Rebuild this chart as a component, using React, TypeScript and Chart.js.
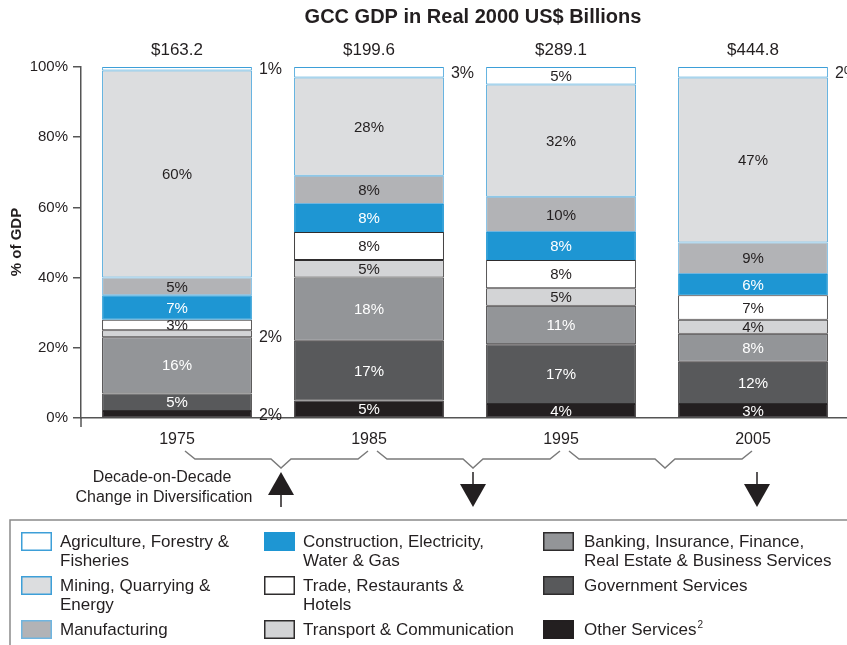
import React, { useEffect, useRef } from "react";
import { Chart, registerables } from "chart.js";

Chart.register(...registerables);

const FONT = "'Liberation Sans', Arial, Helvetica, sans-serif";
const INK = "#231f20";

// Categories and totals
const years = ["1975", "1985", "1995", "2005"];
const totals = ["$163.2", "$199.6", "$289.1", "$444.8"];

// Shares of GDP (%) as drawn, bottom to top of each column
const otherServices = [2, 5, 4, 4];
const government = [5, 17, 17, 12];
const banking = [16, 18, 11, 8];
const transport = [2, 5, 5, 4];
const trade = [3, 8, 8, 7];
const construction = [7, 8, 8, 6];
const manufacturing = [5, 8, 10, 9];
const mining = [59, 28, 32, 47];
const agriculture = [1, 3, 5, 3];

// Printed labels
const otherText = ["2%", "5%", "4%", "3%"];
const governmentText = ["5%", "17%", "17%", "12%"];
const bankingText = ["16%", "18%", "11%", "8%"];
const transportText = ["2%", "5%", "5%", "4%"];
const tradeText = ["3%", "8%", "8%", "7%"];
const constructionText = ["7%", "8%", "8%", "6%"];
const manufacturingText = ["5%", "8%", "10%", "9%"];
const miningText = ["60%", "28%", "32%", "47%"];
const agricultureText = ["1%", "3%", "5%", "2%"];

// Labels printed beside the column rather than inside
const otherOutside = [true, false, false, false];
const transportOutside = [true, false, false, false];
const agricultureOutside = [true, true, false, true];
const noneOutside = [false, false, false, false];

// Y axis ticks
const yTickStep = 20;
const yMax = 100;

// Decade-on-decade change in diversification
const diversificationChange = ["up", "down", "down"];

const BLUE_EDGE = "#3d9fd8";
const DARK_EDGE = "#2e2c2d";

const seriesDefs = [
  { key: "other", legend: ["Other Services"], sup: "2", data: otherServices, text: otherText, outside: otherOutside, fill: "#231f20", edge: "#231f20", textColor: "#ffffff", col: 2, row: 2 },
  { key: "gov", legend: ["Government Services"], data: government, text: governmentText, outside: noneOutside, fill: "#58595b", edge: DARK_EDGE, textColor: "#ffffff", col: 2, row: 1 },
  { key: "bank", legend: ["Banking, Insurance, Finance,", "Real Estate & Business Services"], data: banking, text: bankingText, outside: noneOutside, fill: "#939598", edge: DARK_EDGE, textColor: "#ffffff", col: 2, row: 0 },
  { key: "transport", legend: ["Transport & Communication"], data: transport, text: transportText, outside: transportOutside, fill: "#d3d4d6", edge: DARK_EDGE, textColor: INK, col: 1, row: 2 },
  { key: "trade", legend: ["Trade, Restaurants &", "Hotels"], data: trade, text: tradeText, outside: noneOutside, fill: "#ffffff", edge: DARK_EDGE, textColor: INK, col: 1, row: 1 },
  { key: "construction", legend: ["Construction, Electricity,", "Water & Gas"], data: construction, text: constructionText, outside: noneOutside, fill: "#1e96d3", edge: "#1e96d3", textColor: "#ffffff", col: 1, row: 0 },
  { key: "manufacturing", legend: ["Manufacturing"], data: manufacturing, text: manufacturingText, outside: noneOutside, fill: "#b2b3b6", edge: "#6fb5e0", textColor: INK, col: 0, row: 2 },
  { key: "mining", legend: ["Mining, Quarrying &", "Energy"], data: mining, text: miningText, outside: noneOutside, fill: "#dcdddf", edge: BLUE_EDGE, textColor: INK, col: 0, row: 1 },
  { key: "agriculture", legend: ["Agriculture, Forestry &", "Fisheries"], data: agriculture, text: agricultureText, outside: agricultureOutside, fill: "#ffffff", edge: BLUE_EDGE, textColor: INK, col: 0, row: 0 },
];

const overlayPlugin = {
  id: "overlay",
  afterDatasetsDraw(chart: any) {
    const ctx = chart.ctx;
    ctx.save();
    ctx.font = `15px ${FONT}`;
    ctx.textBaseline = "middle";
    chart.data.datasets.forEach((ds: any, di: number) => {
      const meta = chart.getDatasetMeta(di);
      meta.data.forEach((bar: any, i: number) => {
        const txt = ds.text[i];
        if (!txt) return;
        const p = bar.getProps(["x", "y", "base", "width"], true);
        const cy = (p.y + p.base) / 2 + 1;
        if (ds.outside[i]) {
          ctx.fillStyle = INK;
          ctx.textAlign = "left";
          ctx.font = `16px ${FONT}`;
          ctx.fillText(txt, p.x + p.width / 2 + 7, cy + (ds.key === "transport" ? 3 : 0));
          ctx.font = `15px ${FONT}`;
        } else {
          ctx.fillStyle = ds.textColor;
          ctx.textAlign = "center";
          ctx.fillText(txt, p.x, cy);
        }
      });
    });
    ctx.restore();
  },
  afterDraw(chart: any) {
    const ctx = chart.ctx;
    const xs = chart.scales.x;
    const area = chart.chartArea;
    const cx = years.map((_, i) => xs.getPixelForValue(i));
    ctx.save();

    // Title
    ctx.fillStyle = INK;
    ctx.textAlign = "center";
    ctx.textBaseline = "middle";
    ctx.font = `bold 20px ${FONT}`;
    ctx.fillText("GCC GDP in Real 2000 US$ Billions", 473, 17);

    // Totals
    ctx.font = `17px ${FONT}`;
    totals.forEach((t, i) => ctx.fillText(t, cx[i], 50));

    // Y axis title
    ctx.save();
    ctx.translate(17, 242);
    ctx.rotate(-Math.PI / 2);
    ctx.font = `bold 15px ${FONT}`;
    ctx.fillText("% of GDP", 0, 0);
    ctx.restore();

    // Axis extension below zero
    ctx.strokeStyle = "#555";
    ctx.lineWidth = 1.5;
    ctx.beginPath();
    ctx.moveTo(area.left, area.bottom);
    ctx.lineTo(area.left, area.bottom + 9);
    ctx.stroke();

    // Braces
    ctx.strokeStyle = "#7a7a7a";
    ctx.lineWidth = 1.5;
    const vx: number[] = [];
    for (let i = 0; i < cx.length - 1; i++) {
      const a = cx[i] + 8;
      const b = cx[i + 1] - 1;
      const m = (cx[i] + cx[i + 1]) / 2 + 8;
      vx.push(m);
      ctx.beginPath();
      ctx.moveTo(a, 451);
      ctx.lineTo(a + 10, 459);
      ctx.lineTo(m - 10, 459);
      ctx.lineTo(m, 468);
      ctx.lineTo(m + 10, 459);
      ctx.lineTo(b - 10, 459);
      ctx.lineTo(b, 451);
      ctx.stroke();
    }

    // Arrows
    ctx.fillStyle = INK;
    ctx.strokeStyle = INK;
    ctx.lineWidth = 1.5;
    diversificationChange.forEach((dir, i) => {
      const x = i === diversificationChange.length - 1 ? cx[i + 1] + 4 : vx[i];
      if (dir === "up") {
        ctx.beginPath();
        ctx.moveTo(x, 472);
        ctx.lineTo(x + 13, 495);
        ctx.lineTo(x - 13, 495);
        ctx.closePath();
        ctx.fill();
        ctx.beginPath();
        ctx.moveTo(x, 495);
        ctx.lineTo(x, 507);
        ctx.stroke();
      } else {
        ctx.beginPath();
        ctx.moveTo(x, 472);
        ctx.lineTo(x, 485);
        ctx.stroke();
        ctx.beginPath();
        ctx.moveTo(x - 13, 484);
        ctx.lineTo(x + 13, 484);
        ctx.lineTo(x, 507);
        ctx.closePath();
        ctx.fill();
      }
    });

    ctx.font = `16px ${FONT}`;
    ctx.textAlign = "center";
    ctx.fillText("Decade-on-Decade", 162, 478);
    ctx.fillText("Change in Diversification", 164, 498);

    // Legend box
    ctx.strokeStyle = "#8a8a8a";
    ctx.lineWidth = 1.5;
    ctx.strokeRect(10, 520, 900, 200);

    const colSwatch = [21, 264, 543];
    const colText = [60, 303, 584];
    const rowTop = [532, 576, 620];
    ctx.textAlign = "left";
    ctx.textBaseline = "middle";
    chart.data.datasets.forEach((ds: any) => {
      const sx = colSwatch[ds.col];
      const sy = rowTop[ds.row];
      ctx.fillStyle = ds.backgroundColor;
      ctx.fillRect(sx, sy, 31, 19);
      ctx.strokeStyle = ds.borderColor;
      ctx.lineWidth = 1.5;
      ctx.strokeRect(sx + 0.75, sy + 0.75, 29.5, 17.5);
      ctx.fillStyle = INK;
      ctx.font = `17px ${FONT}`;
      ds.legend.forEach((line: string, li: number) => {
        ctx.fillText(line, colText[ds.col], sy + 10 + li * 19.5);
      });
      if (ds.sup) {
        const w = ctx.measureText(ds.legend[0]).width;
        ctx.font = `10px ${FONT}`;
        ctx.fillText(ds.sup, colText[ds.col] + w + 1, sy + 5);
      }
    });

    ctx.restore();
  },
};

export default function App() {
  const ref = useRef<HTMLCanvasElement | null>(null);

  useEffect(() => {
    if (!ref.current) return;
    Chart.defaults.font.family = FONT;
    const chart = new Chart(ref.current, {
      type: "bar",
      data: {
        labels: years,
        datasets: seriesDefs.map((s) => ({
          label: s.legend.join(" "),
          data: s.data,
          backgroundColor: s.fill,
          borderColor: s.edge,
          borderWidth: 1,
          borderSkipped: false,
          barPercentage: 0.78,
          categoryPercentage: 1,
          key: s.key,
          text: s.text,
          outside: s.outside,
          textColor: s.textColor,
          legend: s.legend,
          sup: (s as any).sup,
          col: s.col,
          row: s.row,
        })) as any,
      },
      options: {
        responsive: false,
        animation: false,
        events: [],
        layout: { padding: { top: 67, left: 0, right: 21, bottom: 197 } },
        plugins: {
          legend: { display: false },
          tooltip: { enabled: false },
          title: { display: false },
        },
        scales: {
          x: {
            stacked: true,
            afterFit: (s: any) => {
              s.height = 30;
            },
            grid: { display: false, drawTicks: false },
            border: { display: true, color: "#555", width: 1.5 },
            ticks: { color: INK, font: { size: 16, family: FONT }, padding: 12 },
          },
          y: {
            stacked: true,
            min: 0,
            max: yMax,
            afterFit: (s: any) => {
              s.width = 81;
            },
            grid: { drawOnChartArea: false, drawTicks: true, tickLength: 8, color: "#555", lineWidth: 1.5 },
            border: { display: true, color: "#555", width: 1.5 },
            ticks: {
              stepSize: yTickStep,
              color: INK,
              padding: 5,
              font: { size: 15, family: FONT },
              callback: (v: any) => `${v}%`,
            },
          },
        },
      },
      plugins: [overlayPlugin],
    });
    return () => chart.destroy();
  }, []);

  return (
    <div
      style={{
        position: "absolute",
        left: 0,
        top: 0,
        width: 847,
        height: 645,
        overflow: "hidden",
        background: "#fff",
      }}
    >
      <canvas ref={ref} width={870} height={645} style={{ display: "block" }} />
    </div>
  );
}
